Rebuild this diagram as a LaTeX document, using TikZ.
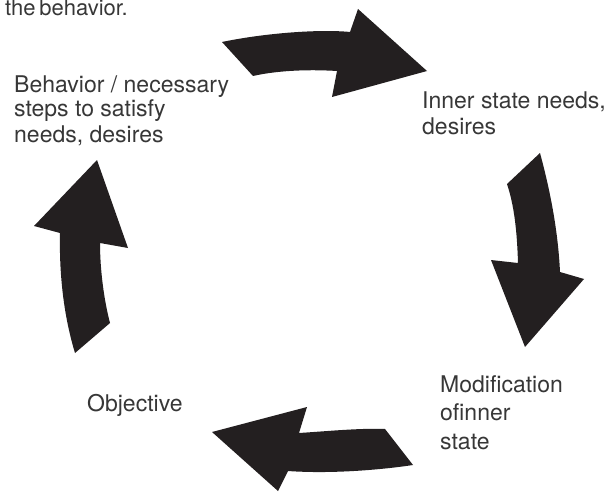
\documentclass[tikz,border=0pt]{standalone}
\usepackage{fontspec}
\setmainfont{TeX Gyre Heros}
\definecolor{arrowblack}{RGB}{35,31,32}
\definecolor{textgray}{RGB}{55,55,55}
\tikzset{
  bigarrow/.style={fill=arrowblack, draw=none},
  label/.style={anchor=base west, inner sep=0pt, align=left, text=textgray, font=\fontsize{23}{25}\selectfont},
}
\begin{document}
\begin{tikzpicture}[x=1pt,y=-1pt]
\useasboundingbox (0,0) rectangle (615,492);
% texts (base anchor = baseline of the last line)
\node[label, font=\fontsize{22}{25}\selectfont] (top) at (5,16) {the\,behavior.};
\node[label] (beh) at (14,142) {Behavior / necessary\\steps to satisfy\\needs, desires};
\node[label, font=\fontsize{23}{26}\selectfont] (inner) at (422,135) {Inner state needs,\\desires};
\node[label, font=\fontsize{23}{28.5}\selectfont] (mod) at (440,449) {Modification\\ofinner\\state};
\node[label] (obj) at (87,411) {Objective};
% top arrow
\path[bigarrow] (222,42) .. controls (265,33) and (320,29) .. (350,32)
  -- (358,9) -- (427,71) -- (332,97) -- (337,71)
  .. controls (305,69) and (275,71) .. (253,76) -- cycle;
% right arrow
\path[bigarrow] (507,184) -- (540,153) .. controls (550,190) and (558,230) .. (560,272)
  -- (584,279) -- (525,347) -- (491,260) -- (518,263)
  .. controls (517,230) and (514,205) .. (507,184) -- cycle;
% bottom arrow
\path[bigarrow] (385,429) -- (413,465) .. controls (380,470) and (330,474) .. (288,471)
  -- (278,491) -- (212,432) -- (307,407) -- (299,433)
  .. controls (330,431) and (360,428) .. (385,429) -- cycle;
% left arrow
\path[bigarrow] (75,353) -- (110,323) .. controls (104,300) and (100,270) .. (100,243)
  -- (128,248) -- (97,160) -- (34,226) -- (60,233)
  .. controls (59,280) and (65,320) .. (75,353) -- cycle;
\end{tikzpicture}
\end{document}
